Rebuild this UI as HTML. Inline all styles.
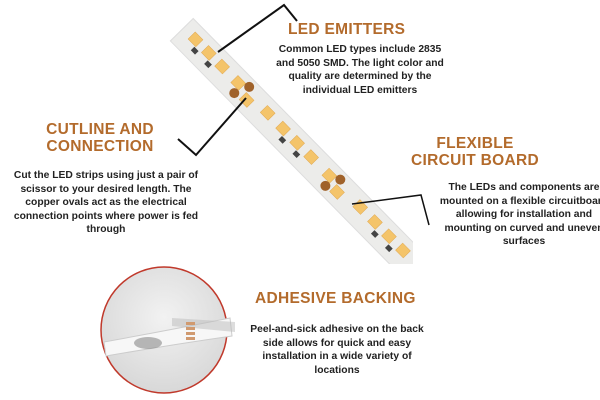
<!DOCTYPE html>
<html><head><style>
body{margin:0;width:600px;height:400px;background:#fff;position:relative;overflow:hidden;font-family:"Liberation Sans",sans-serif}
.t{position:absolute;color:#b36b2c;font-weight:bold;font-size:15.5px;letter-spacing:0.3px;text-align:center;line-height:17px}
.p{position:absolute;color:#222;font-weight:bold;font-size:10.3px;line-height:13.5px;text-align:center}
</style></head><body>
<svg width="600" height="400" style="position:absolute;left:0;top:0">
<defs><clipPath id="c"><rect x="0" y="0" width="413" height="264"/></clipPath>
<radialGradient id="g" cx="0.5" cy="0.4" r="0.6"><stop offset="0" stop-color="#f2f2f2"/><stop offset="1" stop-color="#d8d8d8"/></radialGradient></defs>
<g clip-path="url(#c)">
<g transform="translate(186,34) rotate(45.5)">
<rect x="-6" y="-16" width="340" height="32" fill="#ececea" stroke="#ddd"/>
<g fill="#f4c46a" stroke="#e0a850" stroke-width="0.5">
<rect x="5" y="-8" width="11" height="10"/><rect x="24" y="-8" width="11" height="10"/><rect x="43" y="-8" width="11" height="10"/>
<rect x="66" y="-8" width="11" height="10"/><rect x="84" y="-2" width="11" height="10"/><rect x="108" y="-8" width="11" height="10"/>
<rect x="130" y="-8" width="11" height="10"/><rect x="150" y="-8" width="11" height="10"/><rect x="170" y="-8" width="11" height="10"/>
<rect x="196" y="-8" width="11" height="10"/><rect x="213" y="-2" width="11" height="10"/><rect x="240" y="-8" width="11" height="10"/>
<rect x="261" y="-8" width="11" height="10"/><rect x="281" y="-8" width="11" height="10"/><rect x="301" y="-8" width="11" height="10"/>
</g>
<g fill="#444"><rect x="15" y="3" width="6" height="5"/><rect x="34" y="3" width="6" height="5"/><rect x="140" y="3" width="6" height="5"/><rect x="160" y="3" width="6" height="5"/><rect x="272" y="3" width="6" height="5"/><rect x="292" y="3" width="6" height="5"/></g>
<g fill="#a0622a"><ellipse cx="82" cy="-8" rx="5" ry="5"/><ellipse cx="76" cy="7" rx="5" ry="5"/><ellipse cx="212" cy="-8" rx="5" ry="5"/><ellipse cx="206" cy="7" rx="5" ry="5"/></g>
</g>
</g>
<polyline points="218,52 284,5 297,21" fill="none" stroke="#111" stroke-width="2"/>
<polyline points="246,98 196,155 178,139" fill="none" stroke="#111" stroke-width="2"/>
<polyline points="352,204 421,195 429,225" fill="none" stroke="#111" stroke-width="1.5"/>
<circle cx="164" cy="330" r="63" fill="url(#g)" stroke="#c0392b" stroke-width="1.5"/>
<path d="M104,342 Q170,330 230,318 L232,336 Q170,345 106,356 Z" fill="#f7f7f7" stroke="#ccc"/>
<path d="M172,318 L235,322 L235,332 L172,326Z" fill="#bbb" opacity="0.5"/>
<g fill="#d09a70"><rect x="186" y="322" width="9" height="3"/><rect x="186" y="327" width="9" height="3"/><rect x="186" y="332" width="9" height="3"/><rect x="186" y="337" width="9" height="3"/></g>
<ellipse cx="148" cy="343" rx="14" ry="6" fill="#888" opacity="0.6"/>
</svg>
<div class="t" style="left:288px;top:21px">LED EMITTERS</div>
<div class="p" style="left:276px;top:43px;width:168px">Common LED types include 2835 and 5050 SMD. The light color and quality are determined by the individual LED emitters</div>
<div class="t" style="left:30px;top:121px;width:140px">CUTLINE AND<br>CONNECTION</div>
<div class="p" style="left:8px;top:169px;width:196px">Cut the LED strips using just a pair of scissor to your desired length. The copper ovals act as the electrical connection points where power is fed through</div>
<div class="t" style="left:390px;top:135px;width:170px">FLEXIBLE<br>CIRCUIT BOARD</div>
<div class="p" style="left:436px;top:181px;width:176px">The LEDs and components are mounted on a flexible circuitboard allowing for installation and mounting on curved and uneven surfaces</div>
<div class="t" style="left:255px;top:290px">ADHESIVE BACKING</div>
<div class="p" style="left:250px;top:323px;width:174px">Peel-and-sick adhesive on the back side allows for quick and easy installation in a wide variety of locations</div>
</body></html>
